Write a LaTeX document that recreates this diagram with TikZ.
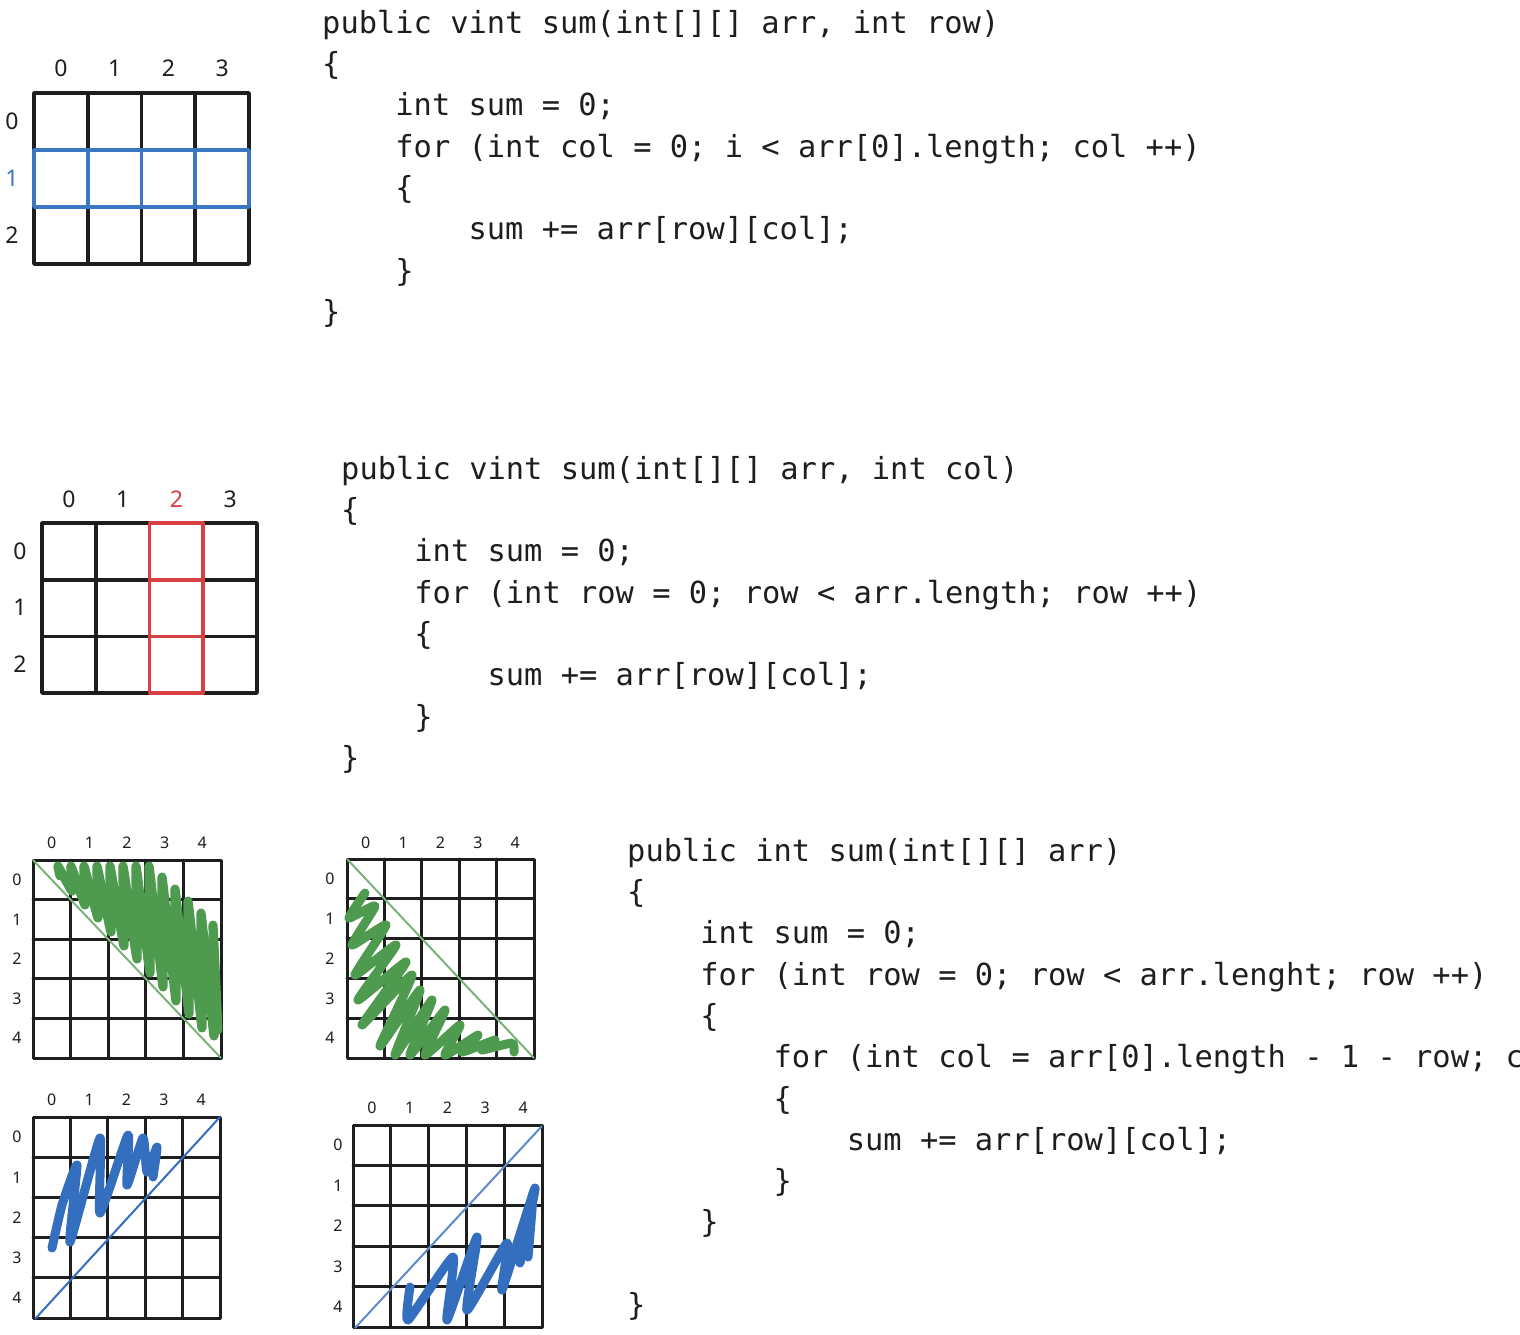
\documentclass[tikz,border=0pt]{standalone}
\usepackage{fontspec}
\usepackage{xcolor}
\usetikzlibrary{positioning,calc}
\newfontfamily\codefont{DejaVu Sans Mono}
\newfontfamily\handfont{Noto Sans}
\definecolor{ink}{RGB}{30,30,30}
\definecolor{rowblue}{RGB}{58,118,196}
\definecolor{colred}{RGB}{214,64,64}
\definecolor{scribgreen}{RGB}{78,154,78}
\definecolor{scribblue}{RGB}{52,110,190}
\frenchspacing

\begin{document}
\begin{tikzpicture}[
    x=1pt, y=-1pt,
    gridline/.style={draw=ink, line width=3.6pt, line cap=round, line join=round},
    smallgrid/.style={gridline, line width=3pt},
    digit/.style={font=\handfont\fontsize{23}{23}\selectfont, text=ink, inner sep=0pt},
    smalldigit/.style={digit, font=\handfont\fontsize{16}{16}\selectfont},
    code/.style={font=\codefont\fontsize{30.4}{41.3}\selectfont, text=ink, align=left, anchor=north west, inner sep=0pt},
    scribble/.style={line width=9pt, line cap=round, line join=round},
    diagline/.style={line width=2pt}
    ]
    \useasboundingbox (0,0) rectangle (1520,1334);
    \fill[white] (0,0) rectangle (1520,1334);

    %Row grid
    \draw[gridline] (34,93) rectangle (249,264);
    \foreach \i in {1,2,3} \draw[gridline] (34+53.75*\i,93) -- ++(0,171);
    \foreach \j in {1,2} \draw[gridline] (34,93+57*\j) -- ++(215,0);
    \draw[gridline, draw=rowblue] (34,150) rectangle (249,207);
    \foreach \i in {1,2,3} \draw[gridline, draw=rowblue] (34+53.75*\i,150) -- ++(0,57);
    \foreach \i in {0,...,3} \node[digit] (a-col\i) at (61+53.75*\i,68) {\i};
    \foreach \j/\c in {0/ink,1/rowblue,2/ink} \node[digit, text=\c] (a-row\j) at (12,121.5+57*\j) {\j};

    %Column grid
    \draw[gridline] (42,523) rectangle (257,693);
    \foreach \i in {1,2,3} \draw[gridline] (42+53.75*\i,523) -- ++(0,170);
    \foreach \j in {1,2} \draw[gridline] (42,523+56.7*\j) -- ++(215,0);
    \draw[gridline, draw=colred] (149.5,523) rectangle (203.25,693);
    \foreach \j in {1,2} \draw[gridline, draw=colred] (149.5,523+56.7*\j) -- ++(53.75,0);
    \foreach \i/\c in {0/ink,1/ink,2/colred,3/ink} \node[digit, text=\c] (b-col\i) at (69+53.75*\i,499) {\i};
    \foreach \j in {0,1,2} \node[digit] (b-row\j) at (20,551+56.7*\j) {\j};

    %Square grids
    \foreach \g/\gx/\gy/\cw/\ch/\ly/\lx in {c/33/860/37.6/39.6/843/17, d/347/859/37.4/39.8/843/330,
                                             e/33/1117/37.4/40.2/1100/17, f/353/1125/37.8/40.4/1108/338} {
        \draw[smallgrid] (\gx,\gy) rectangle ++(5*\cw,5*\ch);
        \foreach \i in {1,...,4} {
            \draw[smallgrid] (\gx+\i*\cw,\gy) -- ++(0,5*\ch);
            \draw[smallgrid] (\gx,\gy+\i*\ch) -- ++(5*\cw,0);
        }
        \foreach \i in {0,...,4} {
            \node[smalldigit] (\g-col\i) at (\gx+\i*\cw+\cw/2,\ly) {\i};
            \node[smalldigit] (\g-row\i) at (\lx,\gy+\i*\ch+\ch/2) {\i};
        }
    }

    %Diagonals
    \draw[diagline, draw=scribgreen!75!white] (33,860) -- (221,1058);
    \draw[diagline, draw=scribgreen!75!white] (347,859) -- (534,1058);
    \draw[diagline, draw=scribblue] (35,1319) -- (220,1117);
    \draw[diagline, draw=scribblue!80!white] (355,1328) -- (542,1126);

    %Scribbles
    \draw[scribble, draw=scribgreen] plot[smooth, tension=0.25] coordinates {
        (60,876) (58,866) (72,891) (71,866) (85,905) (84,866) (98,918) (97,866)
        (111,932) (110,866) (124,946) (123,866) (137,959) (136,866) (150,973) (149,866)
        (163,987) (162,877) (176,1001) (175,889) (189,1014) (188,901) (202,1028) (201,913)
        (214,1036) (213,925) (218,1030)};
    \draw[scribble, draw=scribgreen] plot[smooth, tension=0.3] coordinates {
        (365,893) (349,918) (375,906) (352,945) (386,925) (355,975) (396,945) (358,1000)
        (406,962) (362,1025) (412,975) (380,1046) (420,990) (395,1055) (432,1000) (410,1055)
        (445,1010) (425,1055) (460,1025) (445,1055) (478,1035) (462,1052) (495,1040) (482,1050)
        (512,1043) (514,1052)};
    \draw[scribble, draw=scribblue] plot[smooth, tension=0.3] coordinates {
        (52,1248) (62,1205) (77,1165) (70,1242) (100,1138) (100,1213) (128,1135) (127,1185)
        (143,1138) (147,1172) (157,1147) (153,1177)};
    \draw[scribble, draw=scribblue] plot[smooth, tension=0.3] coordinates {
        (410,1287) (408,1320) (453,1257) (447,1320) (477,1237) (467,1310) (507,1243) (502,1290)
        (535,1188) (520,1263) (533,1193) (528,1257)};

    %Code
    \node[code] (sumrow) at (322,9) {\rule{0pt}{24pt}public vint sum(int[][] arr, int row)\\
        \{\\
        \phantom{0000}int sum = 0;\\
        \phantom{0000}for (int col = 0; i < arr[0].length; col ++)\\
        \phantom{0000}\{\\
        \phantom{00000000}sum += arr[row][col];\\
        \phantom{0000}\}\\
        \}};
    \node[code] (sumcol) at (341,455) {\rule{0pt}{24pt}public vint sum(int[][] arr, int col)\\
        \{\\
        \phantom{0000}int sum = 0;\\
        \phantom{0000}for (int row = 0; row < arr.length; row ++)\\
        \phantom{0000}\{\\
        \phantom{00000000}sum += arr[row][col];\\
        \phantom{0000}\}\\
        \}};
    \node[code] (sumall) at (627,837) {\rule{0pt}{24pt}public int sum(int[][] arr)\\
        \{\\
        \phantom{0000}int sum = 0;\\
        \phantom{0000}for (int row = 0; row < arr.lenght; row ++)\\
        \phantom{0000}\{\\
        \phantom{00000000}for (int col = arr[0].length - 1 - row; c\\
        \phantom{00000000}\{\\
        \phantom{000000000000}sum += arr[row][col];\\
        \phantom{00000000}\}\\
        \phantom{0000}\}\\[41.3pt]
        \}};
\end{tikzpicture}
\end{document}
